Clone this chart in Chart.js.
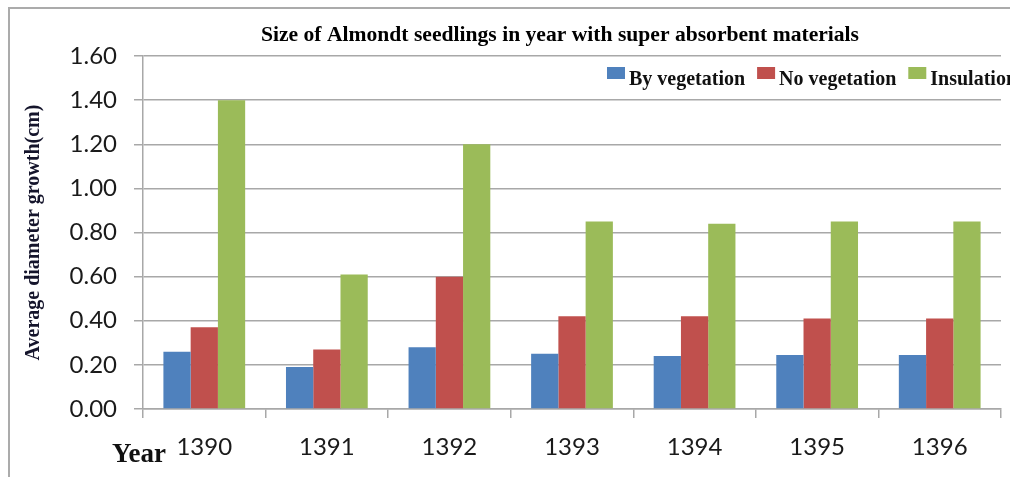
<!DOCTYPE html>
<html lang="en">
<head>
    <meta charset="UTF-8">
    <title>Size of Almondt seedlings</title>
    <script src="https://cdn.jsdelivr.net/npm/chart.js"></script>
    <style>
        body {
            margin: 0;
            background: #ffffff;
        }
        .wrap {
            position: relative;
            width: 1010px;
            height: 477px;
        }
        /* thin grey frame, only top and left edges show in the original */
        .frame {
            position: absolute;
            left: 8px;
            top: 7px;
            right: 0;
            bottom: 0;
            border-top: 2px solid #ababab;
            border-left: 2px solid #ababab;
            pointer-events: none;
        }
    </style>
</head>
<body>
<div class="wrap">
    <canvas id="chart" width="1010" height="477"></canvas>
    <div class="frame"></div>
</div>

<script>
    // data
    const years = ['1390', '1391', '1392', '1393', '1394', '1395', '1396'];
    const byVegetation = [0.26, 0.19, 0.28, 0.25, 0.24, 0.245, 0.245];
    const noVegetation = [0.37, 0.27, 0.60, 0.42, 0.42, 0.41, 0.41];
    const insulation = [1.40, 0.61, 1.20, 0.85, 0.84, 0.85, 0.85];
    const yTicks = ['0.00', '0.20', '0.40', '0.60', '0.80', '1.00', '1.20', '1.40', '1.60'];

    const chartTitle = 'Size of Almondt seedlings in year with super absorbent materials';
    const gridGrey = '#a8a8a8';
    const serif = "'Liberation Serif', 'Times New Roman', serif";

    // title, the "Year" word and the in-plot legend are drawn here,
    // Chart.js' own boxes would eat into the plot area
    const extraText = {
        id: 'extraText',
        afterDraw(chart) {
            const ctx = chart.ctx;
            const area = chart.chartArea;
            ctx.save();
            ctx.fillStyle = '#000';
            ctx.font = 'bold 21.6px ' + serif;
            ctx.textAlign = 'center';
            ctx.textBaseline = 'middle';
            ctx.fillText(chartTitle, 560, 35);

            ctx.font = 'bold 27px ' + serif;
            ctx.textAlign = 'left';
            ctx.textBaseline = 'alphabetic';
            ctx.fillStyle = '#111';
            ctx.fillText('Year', area.left - 31, 462);

            // legend
            ctx.font = 'bold 20px ' + serif;
            let x = 607;
            chart.data.datasets.forEach((ds) => {
                ctx.fillStyle = ds.backgroundColor;
                ctx.fillRect(x, 67, 18, 12);
                x += 22;
                ctx.fillStyle = '#111';
                ctx.fillText(ds.label, x, 85);
                x += ctx.measureText(ds.label).width + 12;
            });
            ctx.restore();
        }
    };

    new Chart(document.getElementById('chart'), {
        type: 'bar',
        data: {
            labels: years,
            datasets: [
                { label: 'By vegetation', data: byVegetation, backgroundColor: '#4f81bd', borderWidth: 0 },
                { label: 'No vegetation', data: noVegetation, backgroundColor: '#c0504d', borderWidth: 0 },
                { label: 'Insulation', data: insulation, backgroundColor: '#9bbb59', borderWidth: 0 }
            ]
        },
        options: {
            responsive: false,
            devicePixelRatio: 1,
            animation: false,
            layout: {
                padding: { left: 0, top: 56, right: 9, bottom: 0 }
            },
            datasets: {
                bar: {
                    categoryPercentage: 0.667,
                    barPercentage: 1.0
                }
            },
            plugins: {
                tooltip: { enabled: false },
                title: { display: false },
                legend: { display: false }
            },
            scales: {
                x: {
                    afterFit(scale) { scale.height = 68; },
                    grid: {
                        drawOnChartArea: false,
                        drawTicks: true,
                        tickLength: 9,
                        color: gridGrey,
                        lineWidth: 1.5
                    },
                    border: { color: gridGrey, width: 1.5 },
                    ticks: {
                        padding: 15,
                        color: '#1a1a1a',
                        font: { family: 'Lato', size: 24 }
                    }
                },
                y: {
                    min: 0,
                    max: 1.6,
                    afterFit(scale) { scale.width = 143; },
                    afterBuildTicks(scale) {
                        scale.ticks = yTicks.map(t => ({ value: parseFloat(t) }));
                    },
                    grid: {
                        color: gridGrey,
                        lineWidth: 1.5,
                        tickLength: 9
                    },
                    border: { color: gridGrey, width: 1.5 },
                    ticks: {
                        padding: 17,
                        color: '#1a1a1a',
                        font: { family: 'Lato', size: 24 },
                        callback: (value) => Number(value).toFixed(2)
                    },
                    title: {
                        display: true,
                        text: 'Average diameter growth(cm)',
                        color: '#14142b',
                        padding: { top: 22, bottom: 0 },
                        font: { family: serif, size: 20, weight: 'bold' }
                    }
                }
            }
        },
        plugins: [extraText]
    });
</script>
</body>
</html>
